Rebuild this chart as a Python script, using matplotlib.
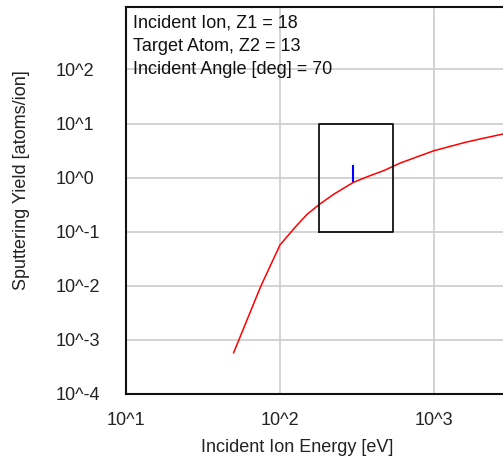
import numpy as np
import matplotlib.pyplot as plt
import matplotlib.transforms as mtransforms

plt.rcParams['font.family'] = ['Liberation Sans', 'DejaVu Sans']

# sputtering yield curve
energy = [50, 75, 100, 125, 150, 180, 225, 300, 375, 475, 600, 800, 1000, 1600, 2000, 2800]
yield_ = [5.8e-4, 0.0098, 0.057, 0.12, 0.21, 0.32, 0.50, 0.82, 1.06, 1.36, 1.85, 2.5,
          3.15, 4.5, 5.2, 6.4]

# measured point with error bar and the window box
meas_e = 300
meas_lo, meas_hi = 0.85, 1.67
box_e = [180, 545]
box_y = [0.1, 10]

info = ["Incident Ion, Z1 = 18", "Target Atom, Z2 = 13", "Incident Angle [deg] = 70"]
xticks = [10, 100, 1000]
xtick_labels = ["10^1", "10^2", "10^3"]
yticks = [1e-4, 1e-3, 1e-2, 1e-1, 1, 10, 100]
ytick_labels = ["10^-4", "10^-3", "10^-2", "10^-1", "10^0", "10^1", "10^2"]

W, H = 503, 459
FS = 13
fig = plt.figure(figsize=(W / 100, H / 100), dpi=100)
ax = fig.add_axes([126 / W, (H - 394) / H, (W - 126) / W, (394 - 7) / H])

ax.set_xscale('log')
ax.set_yscale('log')
ax.set_xlim(10, 2806)
ax.set_ylim(1e-4, 10 ** 3.155)

ax.set_xticks(xticks)
ax.set_xticklabels(xtick_labels)
ax.set_yticks(yticks)
ax.set_yticklabels(ytick_labels)
ax.minorticks_off()
ax.grid(True, color='#cccccc', linewidth=1.2)
ax.set_axisbelow(True)
ax.tick_params(length=0, labelsize=FS, colors='#222222')
ax.tick_params(axis='y', pad=51)
for lab in ax.get_yticklabels():
    lab.set_horizontalalignment('left')
off = mtransforms.ScaledTranslation(-4 / 100, 0, fig.dpi_scale_trans)
for lab in ax.get_xticklabels():
    lab.set_transform(lab.get_transform() + off)
ax.tick_params(axis='x', pad=13)

for s in ['left', 'bottom', 'top']:
    ax.spines[s].set_linewidth(1.5)
    ax.spines[s].set_color('#111111')
ax.spines['right'].set_visible(False)

ax.plot(energy, yield_, color='red', linewidth=1.1)
ax.plot([meas_e, meas_e], [meas_lo, meas_hi], color='blue', linewidth=1.5)
ax.plot([box_e[0], box_e[1], box_e[1], box_e[0], box_e[0]],
        [box_y[0], box_y[0], box_y[1], box_y[1], box_y[0]], color='#111111', linewidth=1.3)

for i, t in enumerate(info):
    fig.text(133 / W, 1 - (23 + 23.5 * i) / H, t, fontsize=FS, va='center', ha='left', color='#111111')

fig.text(297 / W, 1 - 448 / H, "Incident Ion Energy [eV]", fontsize=FS, ha='center', va='center', color='#222222')
fig.text(22 / W, 1 - 180 / H, "Sputtering Yield [atoms/ion]", fontsize=FS, rotation=90,
         ha='center', va='center', color='#222222')

fig.savefig('out.png', dpi=100)
